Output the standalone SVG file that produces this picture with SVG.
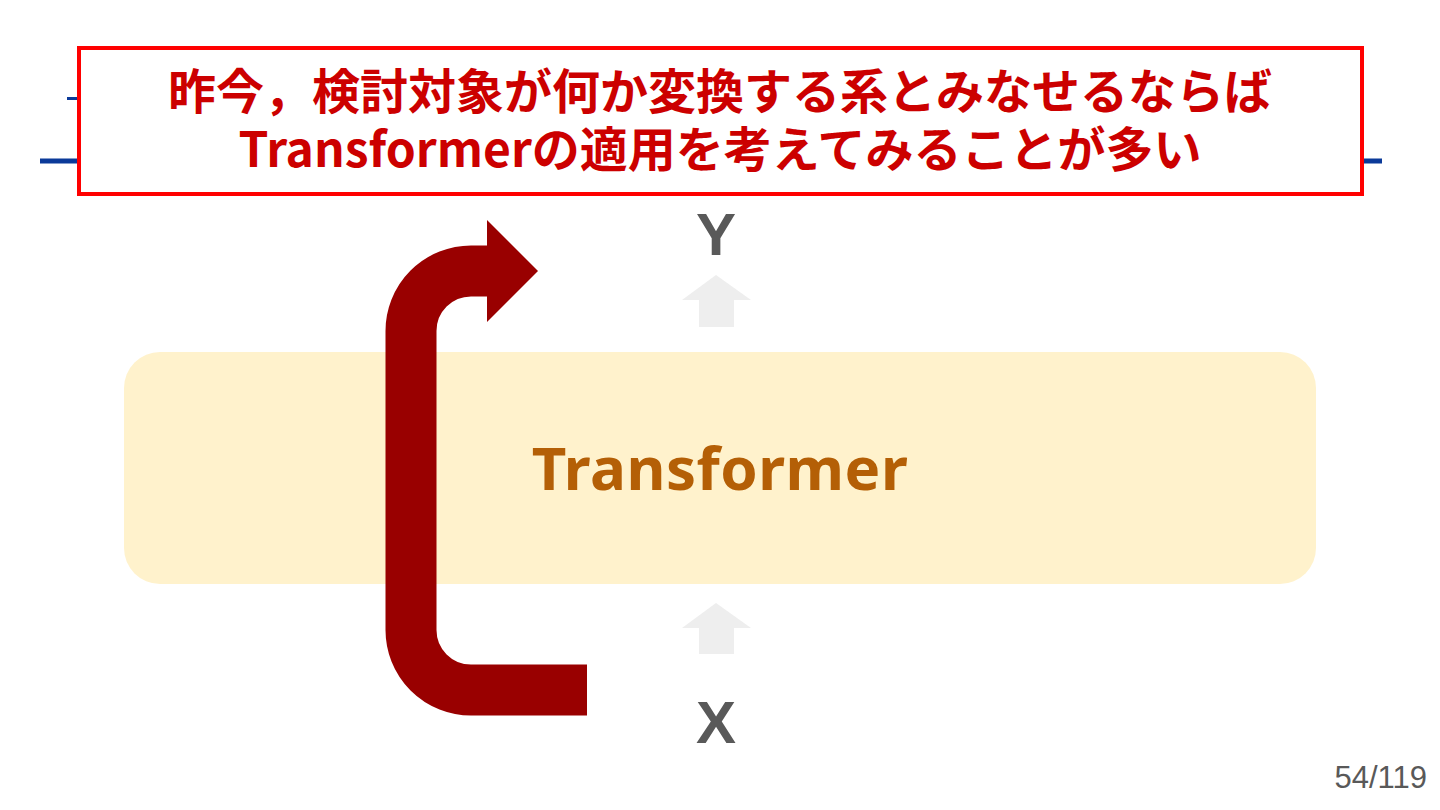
<svg xmlns="http://www.w3.org/2000/svg" width="1440" height="810" viewBox="0 0 1440 810">
<style>
.lbl{font-family:"Liberation Sans",Arial,sans-serif;font-weight:bold;fill:#595959;text-anchor:middle}
.gray{fill:#EEEEEE}
.call{font-family:"Noto Sans CJK JP","Noto Sans",sans-serif;font-weight:bold;fill:#CC0000;text-anchor:middle;font-size:48px}
</style>
<rect width="1440" height="810" fill="#FFFFFF"/>
<g id="title-bg">
<rect x="67" y="97" width="13" height="3" fill="#0B3A99"/>
<rect x="40" y="158.5" width="1342" height="5" fill="#0B3A99"/>
</g>
<g id="transformer">
<rect x="124" y="352" width="1192" height="232" rx="36" fill="#FFF2CC"/>
<text x="720" y="490" font-family="'Noto Sans',sans-serif" font-weight="bold" font-size="60" letter-spacing="0.5" fill="#B45F06" text-anchor="middle">Transformer</text>
</g>
<g id="connectors">
<path d="M587 690 H471 A60 60 0 0 1 411 630 V331 A60 60 0 0 1 471 271 H490" fill="none" stroke="#990000" stroke-width="51"/>
<polygon points="487,220 538,271 487,322" fill="#990000"/>
<polygon class="gray" points="716,275 751,300 734,300 734,327 699,327 699,300 682,300"/>
<polygon class="gray" points="716,603 751,628 734,628 734,654 699,654 699,628 682,628"/>
</g>
<g id="node-y"><text class="lbl" x="716" y="255" font-size="60">Y</text></g>
<g id="node-x"><text class="lbl" x="716" y="743" font-size="60">X</text></g>
<g id="callout">
<rect x="79" y="48" width="1283" height="146" fill="#FFFFFF" stroke="#FF0000" stroke-width="4"/>
<text class="call" x="720" y="109">昨今，検討対象が何か変換する系とみなせるならば</text>
<text class="call" x="720" y="167">Transformerの適用を考えてみることが多い</text>
</g>
<text x="1427" y="788" font-family="'Liberation Sans',Arial,sans-serif" font-size="31" fill="#595959" text-anchor="end">54/119</text>
</svg>
